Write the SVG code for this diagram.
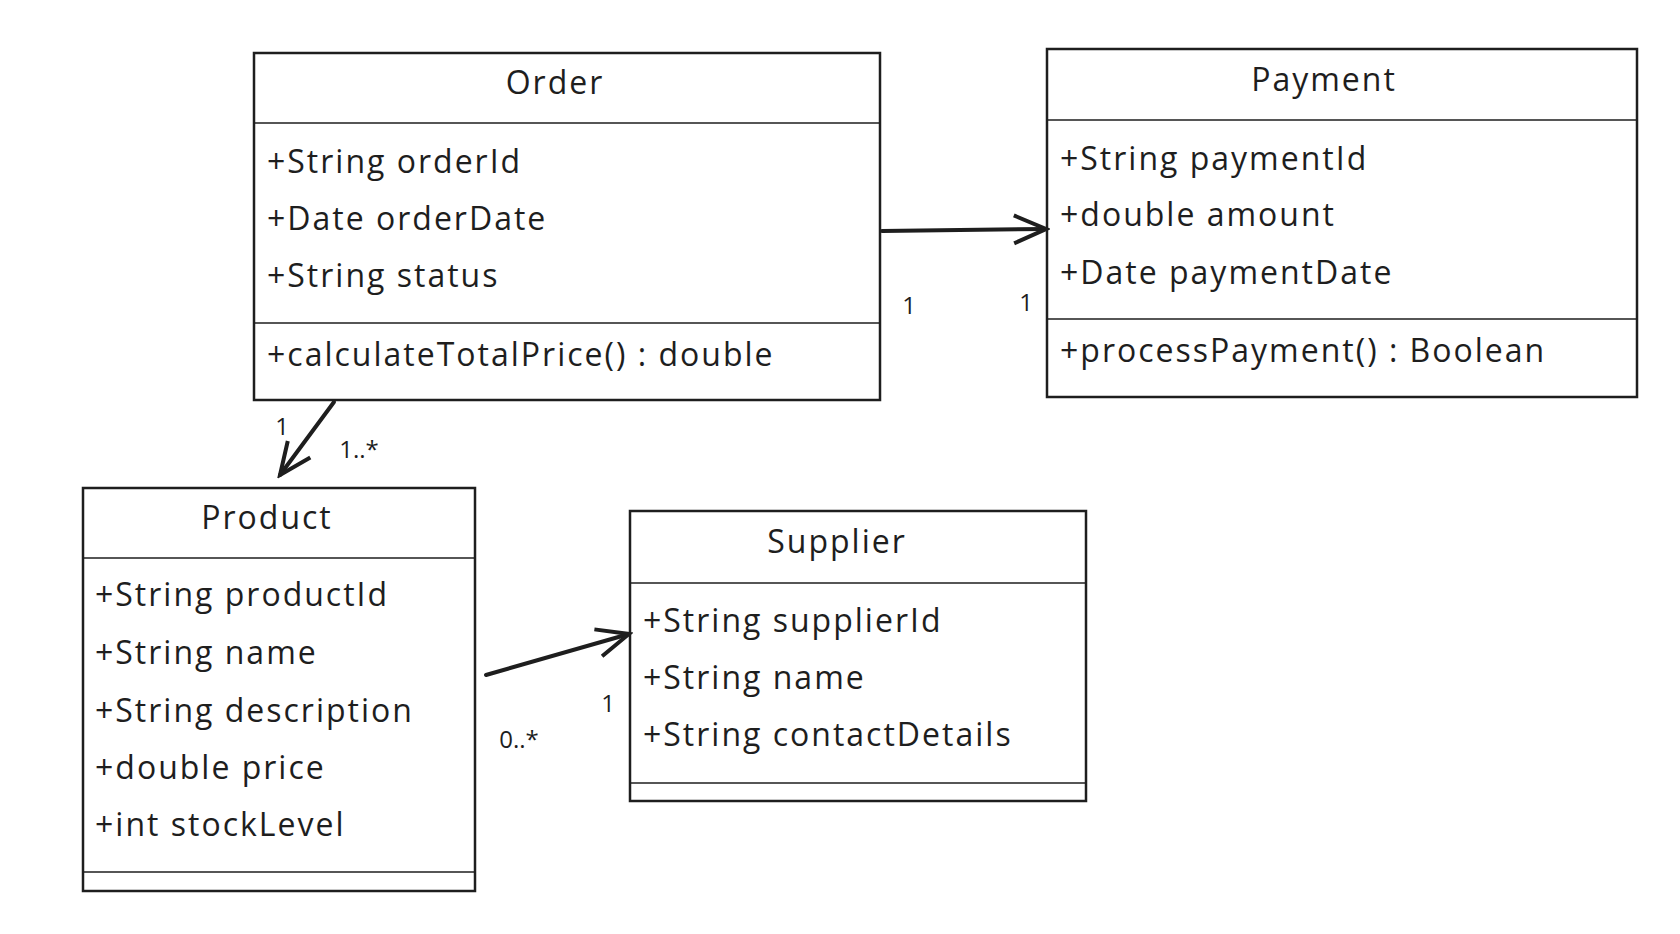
<svg xmlns="http://www.w3.org/2000/svg" width="1680" height="934" viewBox="0 0 1680 934">
<style>
.box{fill:#fff;stroke:#1e1e1e;stroke-width:2.5}
.ln{stroke:#1e1e1e;stroke-width:1.5}
.t{font-family:"Open Sans","Liberation Sans",sans-serif;font-size:32px;letter-spacing:2px;fill:#1e1e1e;dominant-baseline:central}
.h{text-anchor:middle}
.lb{font-family:"Open Sans","Liberation Sans",sans-serif;font-size:24px;fill:#1e1e1e;text-anchor:middle;dominant-baseline:central}
.c{stroke:#1e1e1e;stroke-width:4;fill:none;stroke-linecap:round;stroke-linejoin:round}
</style>
<defs>
<marker id="a" viewBox="0 0 20 20" refX="18" refY="10" markerWidth="40" markerHeight="40" markerUnits="userSpaceOnUse" orient="auto"><path d="M2 3 L18 10 L2 17" fill="none" stroke="#1e1e1e" stroke-width="2"/></marker>
</defs>
<rect width="1680" height="934" fill="#fff"/>
<g id="order">
<rect class="box" x="254" y="53" width="626" height="347"/>
<line class="ln" x1="254" y1="123" x2="880" y2="123"/>
<line class="ln" x1="254" y1="323" x2="880" y2="323"/>
<text class="t h" x="555" y="81">Order</text>
<text class="t" x="267" y="160">+String orderId</text>
<text class="t" x="267" y="217">+Date orderDate</text>
<text class="t" x="267" y="274">+String status</text>
<text class="t" x="267" y="353">+calculateTotalPrice() : double</text>
</g>
<g id="payment">
<rect class="box" x="1047" y="49" width="590" height="348"/>
<line class="ln" x1="1047" y1="120" x2="1637" y2="120"/>
<line class="ln" x1="1047" y1="319" x2="1637" y2="319"/>
<text class="t h" x="1324" y="78">Payment</text>
<text class="t" x="1060" y="157">+String paymentId</text>
<text class="t" x="1060" y="213">+double amount</text>
<text class="t" x="1060" y="271">+Date paymentDate</text>
<text class="t" x="1060" y="349">+processPayment() : Boolean</text>
</g>
<g id="product">
<rect class="box" x="83" y="488" width="392" height="403"/>
<line class="ln" x1="83" y1="558" x2="475" y2="558"/>
<line class="ln" x1="83" y1="872" x2="475" y2="872"/>
<text class="t h" x="267" y="516">Product</text>
<text class="t" x="95" y="593">+String productId</text>
<text class="t" x="95" y="651">+String name</text>
<text class="t" x="95" y="709">+String description</text>
<text class="t" x="95" y="766">+double price</text>
<text class="t" x="95" y="823">+int stockLevel</text>
</g>
<g id="supplier">
<rect class="box" x="630" y="511" width="456" height="290"/>
<line class="ln" x1="630" y1="583" x2="1086" y2="583"/>
<line class="ln" x1="630" y1="783" x2="1086" y2="783"/>
<text class="t h" x="837" y="540">Supplier</text>
<text class="t" x="643" y="619">+String supplierId</text>
<text class="t" x="643" y="676">+String name</text>
<text class="t" x="643" y="733">+String contactDetails</text>
</g>
<g id="connectors">
<path class="c" d="M882 231 L1046 229" marker-end="url(#a)"/>
<path class="c" d="M334 402 L280 475" marker-end="url(#a)"/>
<path class="c" d="M486 675 L629 634" marker-end="url(#a)"/>
<text class="lb" x="909" y="304">1</text>
<text class="lb" x="1026" y="301">1</text>
<text class="lb" x="282" y="425">1</text>
<text class="lb" x="359" y="448">1..*</text>
<text class="lb" x="519" y="738">0..*</text>
<text class="lb" x="608" y="702">1</text>
</g>
</svg>
